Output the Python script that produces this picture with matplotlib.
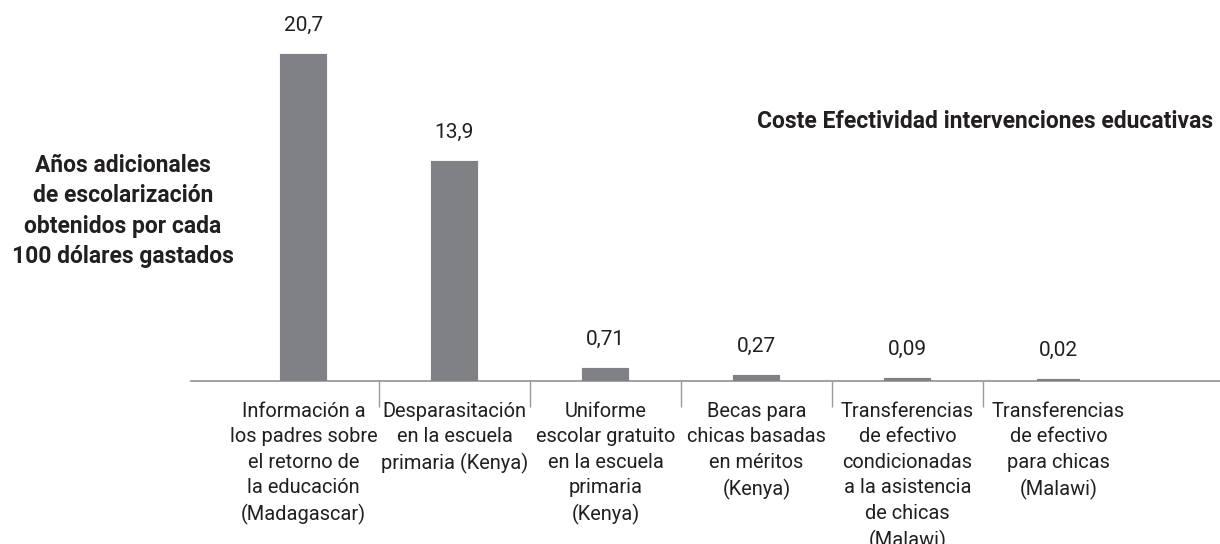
import matplotlib
matplotlib.use("Agg")
import matplotlib.pyplot as plt
import numpy as np

categories = [
    "Información a\nlos padres sobre\nel retorno de\nla educación\n(Madagascar)",
    "Desparasitación\nen la escuela\nprimaria (Kenya)",
    "Uniforme\nescolar gratuito\nen la escuela\nprimaria\n(Kenya)",
    "Becas para\nchicas basadas\nen méritos\n(Kenya)",
    "Transferencias\nde efectivo\ncondicionadas\na la asistencia\nde chicas\n(Malawi)",
    "Transferencias\nde efectivo\npara chicas\n(Malawi)",
]
values = [20.7, 13.9, 0.71, 0.27, 0.09, 0.02]
value_labels = ["20,7", "13,9", "0,71", "0,27", "0,09", "0,02"]

plt.rcParams['font.family'] = ['Roboto', 'DejaVu Sans']
text_color = "#231f20"
bar_color = "#808184"
line_color = "#9a9a9a"

fig = plt.figure(figsize=(12.2, 5.44), dpi=100)
ax = fig.add_axes([191 / 1220, 163 / 544, 1029 / 1220, 381 / 544])

x = np.arange(len(values))
ax.bar(x, values, width=0.28, color=bar_color, edgecolor=bar_color, linewidth=3,
       zorder=5)

for xi, v, lab in zip(x, values, value_labels):
    ax.annotate(lab, (xi, v), xytext=(0, 22), textcoords="offset points",
                ha="center", va="center", fontsize=15, color=text_color)

ax.set_xlim(-0.745, 6.07)
ax.set_ylim(0, 381 / 15.7)

for s in ["top", "right", "left"]:
    ax.spines[s].set_visible(False)
ax.spines["bottom"].set_color(line_color)
ax.spines["bottom"].set_linewidth(1.3)
ax.spines["bottom"].set_zorder(1)
ax.set_yticks([])

ax.set_xticks(x)
ax.set_xticklabels(categories, fontsize=14.4, color=text_color, linespacing=1.43, va="top")
ax.tick_params(axis="x", which="major", length=0, pad=15)
ax.set_xticks(x[:-1] + 0.5, minor=True)
ax.tick_params(axis="x", which="minor", length=19, width=1, color=line_color, direction="out")

fig.text(123 / 1220, 1 - 211 / 544,
         "Años adicionales\nde escolarización\nobtenidos por cada\n100 dólares gastados",
         ha="center", va="center", fontsize=16.5, fontweight="bold", color=text_color,
         linespacing=1.42)
fig.text(1213 / 1220, 1 - 122 / 544, "Coste Efectividad intervenciones educativas",
         ha="right", va="center", fontsize=16.5, fontweight="bold", color=text_color)

fig.savefig("out.png", dpi=100)
